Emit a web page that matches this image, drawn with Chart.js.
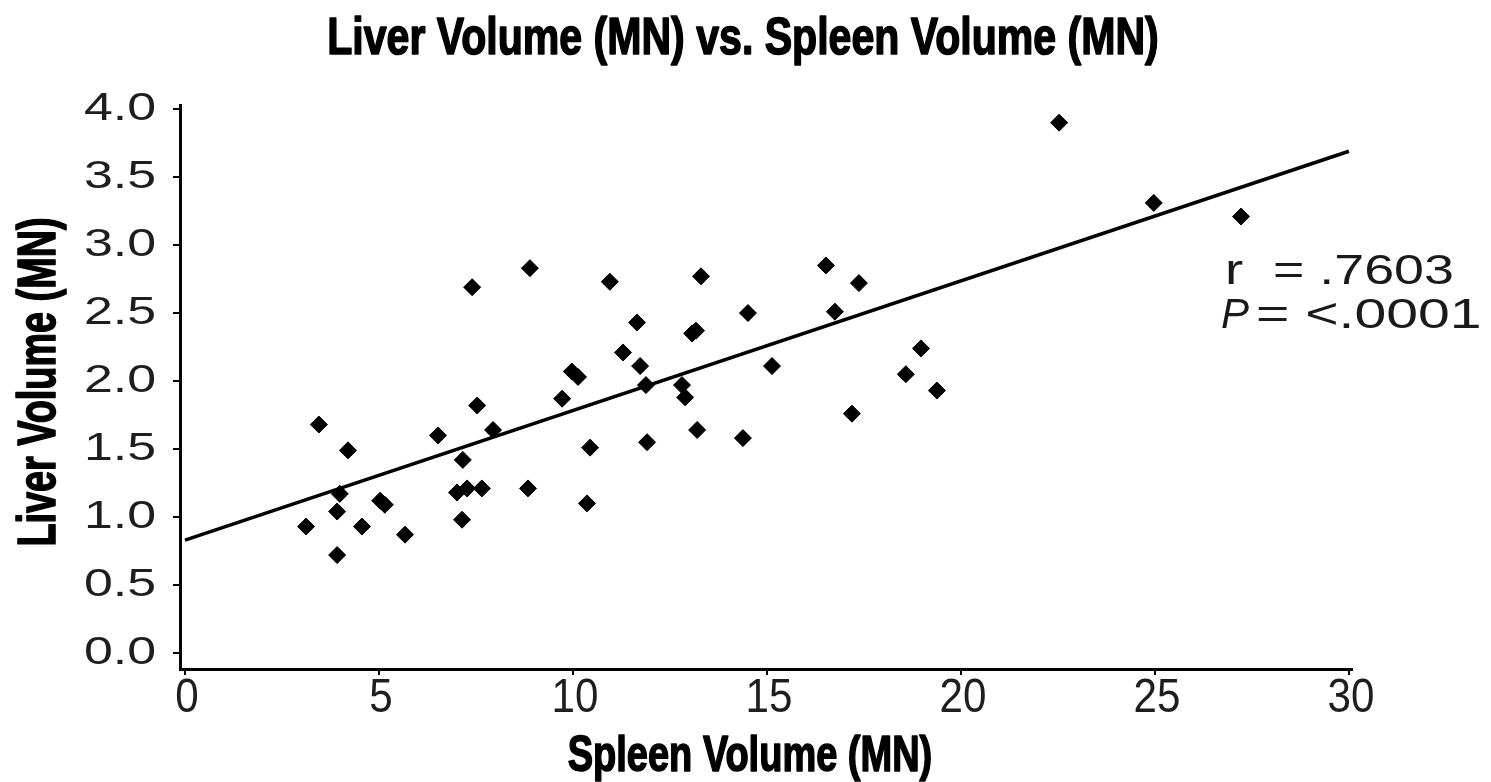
<!DOCTYPE html>
<html>
<head>
<meta charset="utf-8">
<title>Liver Volume vs. Spleen Volume</title>
<script src="https://cdn.jsdelivr.net/npm/chart.js@4.4.1/dist/chart.umd.min.js"></script>
<style>
  html, body { margin: 0; padding: 0; background: #ffffff; }
  #wrap { width: 1491px; height: 782px; position: relative; }
  canvas { display: block; }
</style>
</head>
<body>
<div id="wrap"><canvas id="chart" width="1491" height="782"></canvas></div>
<script>
// Spleen volume (multiples of normal) for each subject
const spleenVolume = [
  3.12, 3.45, 3.92, 3.92, 3.99, 4.20, 4.56, 5.03, 5.15, 5.67,
  6.52, 7.14, 7.16, 7.01, 7.27, 7.40, 7.53, 7.65, 7.94, 8.89,
  8.84, 9.72, 9.97, 10.13, 10.36, 10.44, 10.95, 11.29, 11.65, 11.73,
  11.88, 11.91, 12.81, 12.89, 13.07, 13.17, 13.20, 13.30, 14.38, 14.51,
  15.13, 16.52, 16.75, 17.19, 17.37, 18.58, 18.97, 19.38, 22.53, 24.97,
  27.22
];
// Liver volume (multiples of normal) for the same subjects
const liverVolume = [
  0.93, 1.68, 0.72, 1.04, 1.17, 1.49, 0.93, 1.12, 1.09, 0.87,
  1.60, 0.98, 1.42, 1.18, 1.21, 2.69, 1.82, 1.21, 1.64, 2.83,
  1.21, 1.87, 2.07, 2.03, 1.10, 1.51, 2.73, 2.21, 2.43, 2.11,
  1.97, 1.55, 1.97, 1.88, 2.35, 2.37, 1.64, 2.77, 1.58, 2.50,
  2.11, 2.85, 2.51, 1.76, 2.72, 2.05, 2.24, 1.93, 3.90, 3.31,
  3.21
];
// Least-squares fit line end points
const fitSpleen = [0, 30];
const fitLiver = [0.83, 3.69];

const xTicks = [0, 5, 10, 15, 20, 25, 30];
const yTicks = [0.0, 0.5, 1.0, 1.5, 2.0, 2.5, 3.0, 3.5, 4.0];
const xTickLabels = ['0', '5', '10', '15', '20', '25', '30'];
const yTickLabels = ['0.0', '0.5', '1.0', '1.5', '2.0', '2.5', '3.0', '3.5', '4.0'];

const chartTitle = 'Liver Volume (MN) vs. Spleen Volume (MN)';
const xTitle = 'Spleen Volume (MN)';
const yTitle = 'Liver Volume (MN)';
const rText = '= .7603';
const pText = '= <.0001';

const points = spleenVolume.map((x, i) => ({ x: x, y: liverVolume[i] }));
const fitPoints = fitSpleen.map((x, i) => ({ x: x, y: fitLiver[i] }));

const SANS = '"Liberation Sans", Arial, sans-serif';

// Draws text squeezed or widened horizontally by factor sx around its anchor;
// a positive weight adds an outline to make the glyphs heavier
function drawScaledText(ctx, text, x, y, sx, font, align, rotation, weight) {
  ctx.save();
  ctx.translate(x, y);
  if (rotation) ctx.rotate(rotation);
  ctx.scale(sx, 1);
  ctx.font = font;
  ctx.textAlign = align;
  ctx.fillText(text, 0, 0);
  if (weight) {
    ctx.lineWidth = weight;
    ctx.lineJoin = 'round';
    ctx.strokeStyle = ctx.fillStyle;
    ctx.strokeText(text, 0, 0);
  }
  ctx.restore();
}

// Titles, tick numerals and correlation statistics
const textPlugin = {
  id: 'chartText',
  afterDraw(chart) {
    const ctx = chart.ctx;
    const xs = chart.scales.x;
    const ys = chart.scales.y;
    const area = chart.chartArea;
    ctx.save();
    ctx.textBaseline = 'alphabetic';

    // heavy condensed titles
    ctx.fillStyle = '#000000';
    drawScaledText(ctx, chartTitle, 743, 54, 0.79, 'bold 52px ' + SANS, 'center', 0, 1.6);
    drawScaledText(ctx, xTitle, 750, 771, 0.76, 'bold 50px ' + SANS, 'center', 0, 1.6);
    drawScaledText(ctx, yTitle, 55, (area.top + area.bottom) / 2 - 5, 0.70, 'bold 54px ' + SANS, 'center', -Math.PI / 2, 1.6);

    // y tick numerals (wide)
    ctx.fillStyle = '#1e1e1e';
    yTicks.forEach((v, i) => {
      const py = ys.getPixelForValue(v);
      drawScaledText(ctx, yTickLabels[i], 156, py + 11, 1.33, '39px ' + SANS, 'right');
    });

    // x tick numerals (tall, narrow)
    xTicks.forEach((v, i) => {
      const px = xs.getPixelForValue(v);
      drawScaledText(ctx, xTickLabels[i], px + 2, 712, 0.86, '49px ' + SANS, 'center');
    });

    // correlation statistics
    ctx.fillStyle = '#1a1a1a';
    drawScaledText(ctx, 'r', 1225, 284, 1.3, '42px ' + SANS, 'left');
    drawScaledText(ctx, rText, 1273, 284, 1.28, '42px ' + SANS, 'left');
    drawScaledText(ctx, 'P', 1221, 328, 1.0, 'italic 42px ' + SANS, 'left');
    drawScaledText(ctx, pText, 1256, 328, 1.36, '42px ' + SANS, 'left');

    ctx.restore();
  }
};

new Chart(document.getElementById('chart'), {
  data: {
    datasets: [
      {
        type: 'scatter',
        data: points,
        pointStyle: 'rectRot',
        pointRadius: 8.5,
        pointHoverRadius: 8.5,
        backgroundColor: '#000000',
        borderColor: '#000000',
        borderWidth: 1,
        order: 2
      },
      {
        type: 'line',
        data: fitPoints,
        borderColor: '#000000',
        borderWidth: 3.5,
        pointRadius: 0,
        fill: false,
        tension: 0,
        order: 1
      }
    ]
  },
  options: {
    responsive: false,
    animation: false,
    devicePixelRatio: 1,
    layout: { padding: { left: 0, right: 139, top: 105, bottom: 0 } },
    plugins: {
      legend: { display: false },
      tooltip: { enabled: false },
      title: { display: false }
    },
    scales: {
      x: {
        type: 'linear',
        position: 'bottom',
        min: -0.13,
        max: 30.08,
        afterBuildTicks(axis) { axis.ticks = xTicks.map(v => ({ value: v })); },
        afterFit(axis) { axis.height = 113; },
        ticks: { display: false },
        grid: { display: true, drawOnChartArea: false, drawTicks: true, tickLength: 6, color: '#000000', lineWidth: 2 },
        border: { display: true, color: '#000000', width: 3 },
        title: { display: false }
      },
      y: {
        type: 'linear',
        position: 'left',
        min: -0.118,
        max: 4.03,
        afterBuildTicks(axis) { axis.ticks = yTicks.map(v => ({ value: v })); },
        afterFit(axis) { axis.width = 180; },
        ticks: { display: false },
        grid: { display: true, drawOnChartArea: false, drawTicks: true, tickLength: 7, color: '#000000', lineWidth: 2 },
        border: { display: true, color: '#000000', width: 3 },
        title: { display: false }
      }
    }
  },
  plugins: [textPlugin]
});
</script>
</body>
</html>
